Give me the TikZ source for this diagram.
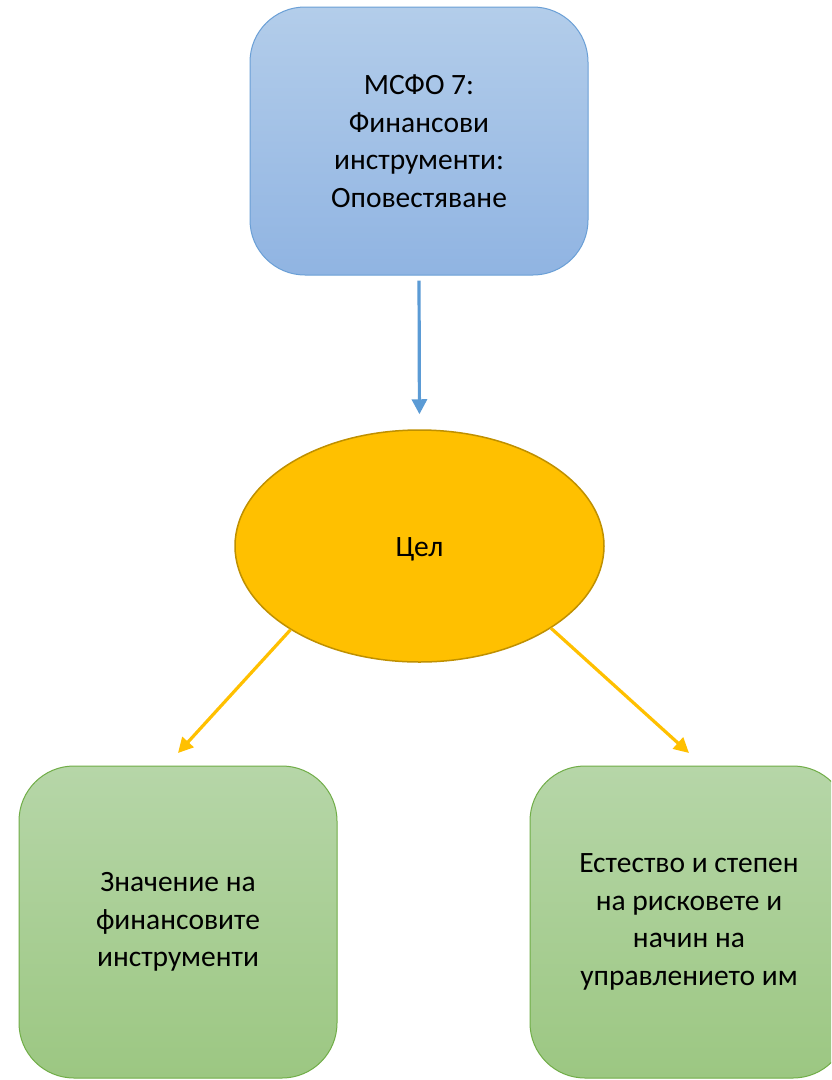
\documentclass[tikz,border=0pt]{standalone}
\usepackage{fontspec}
\setmainfont{Carlito}
\usetikzlibrary{shapes.geometric,arrows.meta}
\definecolor{bluetop}{HTML}{B3CDEA}
\definecolor{bluebot}{HTML}{90B4E2}
\definecolor{blueline}{HTML}{6A9FD6}
\definecolor{bluearrow}{HTML}{5B9BD5}
\definecolor{gold}{HTML}{FFC000}
\definecolor{goldline}{HTML}{BF9000}
\definecolor{greentop}{HTML}{B6D6A8}
\definecolor{greenbot}{HTML}{9CC782}
\definecolor{greenline}{HTML}{70AD47}
\tikzset{
  txt/.style={font=\fontsize{29.5}{37.5}\selectfont, align=center, text=black},
  bluebox/.style={txt, draw=blueline, line width=1pt, rounded corners=55pt,
    top color=bluetop, bottom color=bluebot, minimum width=338pt, minimum height=268pt, inner sep=0pt},
  greenbox/.style={txt, draw=greenline, line width=1pt, rounded corners=55pt,
    top color=greentop, bottom color=greenbot, minimum width=318pt, minimum height=312pt, inner sep=0pt},
  goal/.style={ellipse, draw=goldline, line width=1.5pt, fill=gold,
    minimum width=369pt, minimum height=232pt, inner sep=0pt},
  tip/.style={-{Triangle[length=15pt,width=15pt]}, line width=3.2pt}
}
\begin{document}
\begin{tikzpicture}[x=1pt,y=-1pt]
\clip (0,0) rectangle (831,1080);
\fill[white] (0,0) rectangle (831,1080);
\node[bluebox] (top) at (419,141) {МСФО 7:\\Финансови\\инструменти:\\Оповестяване};
\node[goal] (c) at (419.5,546) {};
\node[txt] (ct) at (419.5,549) {Цел};
\node[greenbox] (l) at (178,922) {Значение на\\финансовите\\инструменти};
\node[greenbox] (r) at (689,922) {Естество и степен\\на рисковете и\\начин на\\управлението им};
\coordinate (lt) at (178,753);
\coordinate (rt) at (689,753);
\draw[tip, draw=bluearrow, color=bluearrow, shorten <=5pt, shorten >=15pt] (top.south) -- (c.north);
\draw[tip, draw=gold, color=gold] (c.-147.6) -- (lt);
\draw[tip, draw=gold, color=gold] (c.-32.2) -- (rt);
\end{tikzpicture}
\end{document}
